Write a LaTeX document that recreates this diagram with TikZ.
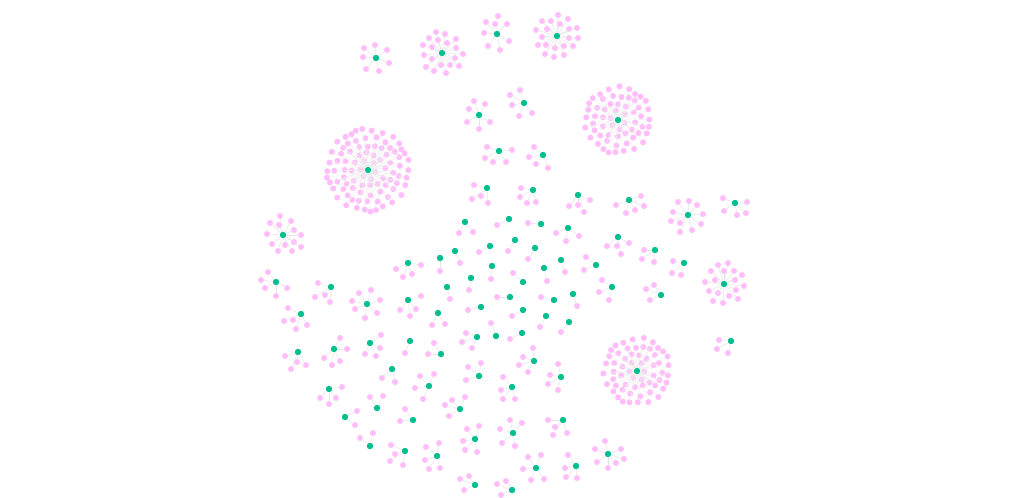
\documentclass[tikz,border=0pt]{standalone}
\definecolor{pinkdot}{RGB}{255,190,250}
\definecolor{greendot}{RGB}{0,190,142}
\definecolor{linkgray}{RGB}{228,228,228}
\definecolor{linklight}{RGB}{238,238,238}
\tikzset{
  satdot/.style={circle,fill=pinkdot,inner sep=0pt,minimum size=6pt},
  hubdot/.style={circle,fill=greendot,inner sep=0pt,minimum size=6.4pt},
  lnk/.style={draw=linkgray,line width=0.5pt},
  lnklight/.style={draw=linklight,line width=0.4pt}
}
\newcommand\grp[4]{%
  \node[hubdot] (#1) at (#2,#3) {};
  \foreach \a/\b [count=\k] in {#4} {
    \node[satdot] (#1-\k) at (\a,\b) {};
    \draw[lnk] (#1) -- (#1-\k);
  }%
}
\newcommand\ball[4]{%
  \node[hubdot] (#1) at (#2,#3) {};
  \foreach \r/\n/\o [count=\q] in {#4} {
    \foreach \k in {1,...,\n} {
      \pgfmathsetmacro\rr{\r+1.3*sin(97*\k+31*\q)}
      \pgfmathsetmacro\aa{\o+360*\k/\n+5*cos(53*\k+17*\q)}
      \pgfmathsetmacro\px{#2+\rr*cos(\aa)}
      \pgfmathsetmacro\py{#3+\rr*sin(\aa)}
      \node[satdot] (#1-\q-\k) at (\px,\py) {};
      \draw[lnklight] (#1) -- (#1-\q-\k);
    }
  }%
}
\begin{document}
\begin{tikzpicture}[x=1pt,y=-1pt]
\useasboundingbox[fill=white] (0,0) rectangle (1015,498);
% big clusters
\ball{A}{368}{170}{8.5/6/10,16.5/12/25,24.5/18/5,32.5/24/12,40.5/30/3}
\ball{B}{618}{120}{8.5/6/20,16.5/12/5,24.5/18/14,32.5/24/0}
\ball{C}{637}{371}{8.5/6/0,16.5/12/12,24.5/18/3,32.5/24/9}
% top clusters
\grp{t1}{376}{58}{364/48,375/45,387/50,363/57,389/63,366/69,379/71}
\grp{t2}{442}{53}{436/32,445/34,429/38,438/40,447/43,456/39,423/45,432/47,456/48,424/55,463/54,432/59,455/58,441/65,450/65,459/66,426/67,434/71,446/73}
\grp{t3}{497}{34}{498/16,486/22,495/24,507/24,484/33,509/41,488/46,500/50}
\grp{t4}{557}{36}{558/15,542/21,551/21,568/19,536/30,547/29,560/24,569/29,577/28,542/37,569/38,578/38,538/45,546/45,555/48,564/46,573/46,545/54,554/57,564/55}
\grp{t5}{479}{115}{474/101,485/104,469/109,467/122,490/122,479/129}
\grp{t6}{524}{103}{520/90,510/95,512/105,532/113,519/116}
\grp{t7}{499}{151}{487/147,512/150,485/158,493/162,506/162}
\grp{t8}{543}{155}{534/147,529/157,536/164,548/168}
% middle band
\grp{z1}{487}{188}{474/185,481/196,472/199,488/203}
\grp{z2}{533}{190}{521/188,520/197,527/203,536/202}
\grp{z3}{578}{195}{569/206,578/205,590/200,584/212}
\grp{z4}{629}{200}{616/205,626/213,635/210,644/206,641/196}
\grp{z5}{465}{222}{459/233,473/232}
\grp{z6}{509}{219}{497/225}
\grp{z7}{541}{224}{528/223}
\grp{z8}{568}{228}{556/233,579/236,566/241}
\grp{z9}{618}{237}{607/246,617/246,629/243,621/254}
\grp{z10}{515}{240}{508/251}
\grp{z11}{490}{246}{479/252}
\grp{z12}{535}{248}{528/259}
\grp{z13}{455}{251}{460/263}
\grp{z14}{440}{258}{440/271}
\grp{z15}{408}{263}{396/269,403/277,412/274,421/265}
\grp{z16}{492}{266}{491/279}
\grp{z17}{523}{282}{513/273}
\grp{z18}{544}{268}{547/281}
\grp{z19}{561}{260}{565/272}
\grp{z20}{596}{265}{586/257,584/270}
\grp{z21}{471}{278}{469/290}
\grp{z22}{447}{287}{450/299}
\grp{z23}{408}{300}{421/296,400/310,416/309,410/316}
\grp{z24}{510}{297}{497/297}
\grp{z25}{554}{300}{541/297}
\grp{z26}{573}{294}{577/306}
\grp{z27}{481}{307}{468/310}
\grp{z28}{523}{310}{512/316}
\grp{z29}{438}{313}{432/325,445/324}
\grp{z30}{546}{316}{540/327}
\grp{z31}{569}{322}{561/332}
\grp{z32}{496}{336}{491/323}
\grp{z33}{522}{333}{510/339}
\grp{z34}{477}{337}{466/333,462/342,472/348}
\grp{z35}{410}{341}{405/353}
\grp{z36}{441}{354}{434/343,428/354}
\grp{z37}{534}{361}{533/348,523/357,519/365,528/372}
% right side
\grp{r1}{688}{215}{678/202,689/201,697/205,673/212,703/214,671/221,680/223,701/224,680/232,692/230}
\grp{r2}{735}{203}{723/198,747/202,724/211,737/215,746/213}
\grp{r3}{655}{250}{644/250,642/259,654/262}
\grp{r4}{684}{263}{673/261,672/273,681/275}
\grp{r5}{612}{287}{602/280,599/292,609/300}
\grp{r6}{661}{295}{654/285,646/289,650/300}
\grp{r7}{724}{284}{718/265,728/263,711/271,724/271,734/271,742/275,705/282,715/280,735/280,744/286,709/291,718/293,736/290,729/296,738/299,713/301,723/303}
\grp{r8}{731}{341}{719/340,717/349,728/353}
% left side
\grp{l1}{283}{235}{280/216,270/223,291/221,279/225,267/234,294/230,301/235,294/242,272/244,285/245,301/247,278/251,292/251}
\grp{l2}{276}{282}{268/272,261/280,265/288,287/288,276/296}
\grp{l3}{331}{287}{318/283,315/297,325/295,330/302}
\grp{l4}{301}{314}{288/308,284/321,293/320,296/329,307/325}
\grp{l5}{367}{304}{359/293,371/290,352/301,380/300,355/309,377/313,365/318}
\grp{l6}{370}{343}{381/335,380/348,365/354,376/356}
\grp{l7}{334}{349}{340/338,347/349,324/358,340/361,332/365}
\grp{l8}{298}{352}{285/356,297/362,306/365,291/369}
% bottom left
\grp{b1}{392}{369}{382/378,395/382}
\grp{b2}{429}{386}{420/376,434/374,415/388,423/399}
\grp{b3}{329}{389}{342/387,320/398,336/398,329/404}
\grp{b4}{377}{408}{370/397,383/396}
\grp{b5}{345}{417}{357/411,355/425}
\grp{b6}{413}{420}{405/409,400/421}
\grp{b7}{370}{446}{373/433,360/438}
\grp{b8}{405}{451}{391/445,395/454,390/461,403/465}
\grp{b9}{437}{456}{426/447,439/443,425/460,429/469,440/468}
\grp{b10}{460}{409}{452/400,465/397,445/405,449/416}
% bottom middle
\grp{c1}{479}{376}{481/363,468/367,466/380}
\grp{c2}{561}{377}{558/364,550/375,548/384,558/390}
\grp{c3}{512}{387}{503/377,501/390,503/399,515/399}
\grp{c4}{563}{420}{548/420,555/427,567/433,553/435}
\grp{c5}{475}{439}{467/429,479/426,463/441,465/450,477/452}
\grp{c6}{513}{433}{510/420,522/423,500/429,502/443,515/446}
\grp{c7}{608}{454}{605/441,595/449,621/449,597/462,624/459,608/468,616/463}
\grp{c8}{536}{468}{528/457,541/455,523/469,531/480,544/479}
\grp{c9}{576}{466}{568/455,565/468,566/477,577/478}
\grp{c10}{475}{485}{460/479,469/476,464/490}
\grp{c11}{512}{490}{497/484,506/481,501/495}
\end{tikzpicture}
\end{document}
